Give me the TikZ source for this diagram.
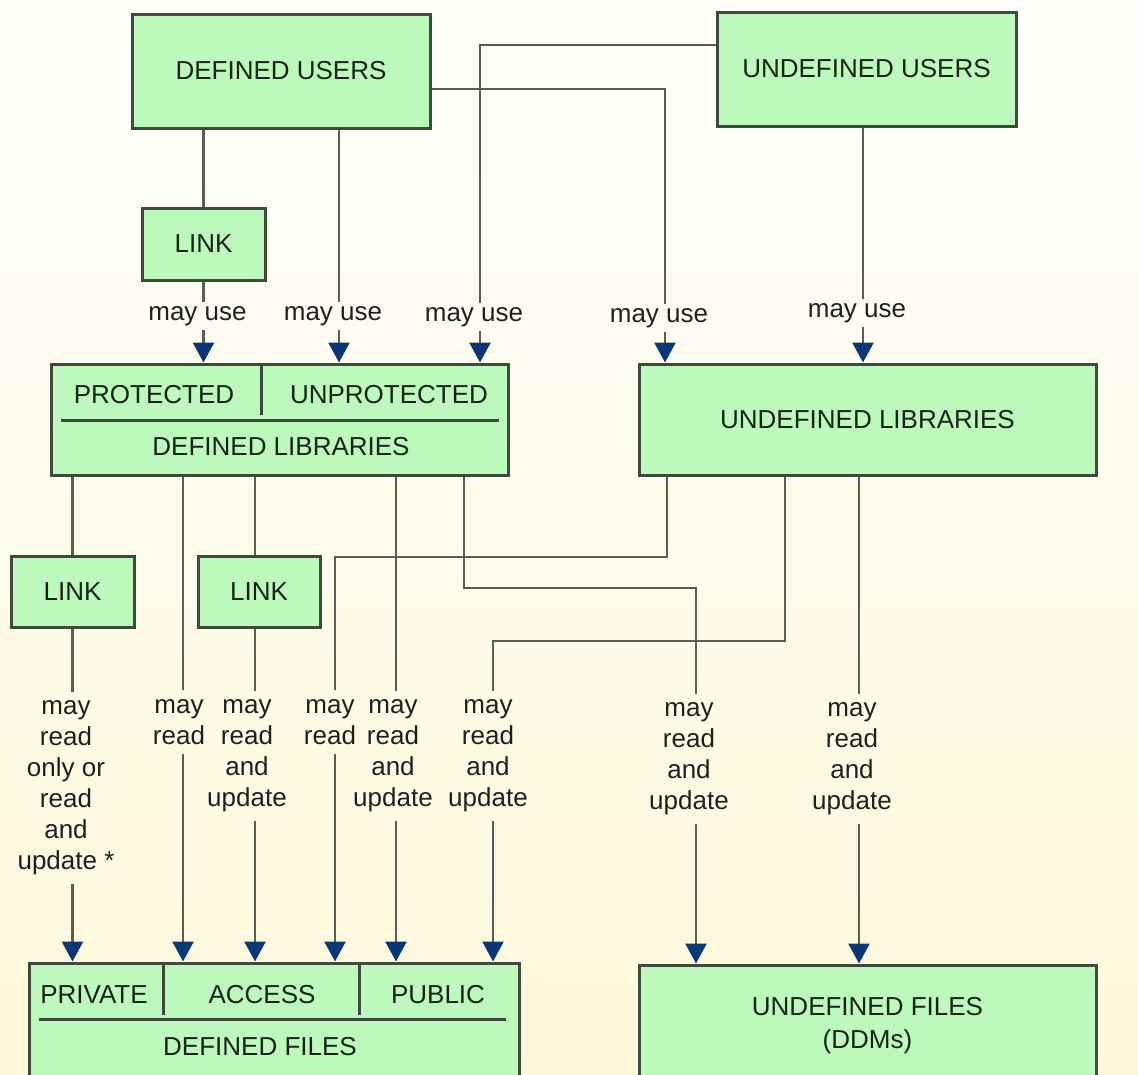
\documentclass[tikz,border=0pt]{standalone}
\usepackage{fontspec}
\setmainfont{Liberation Sans}
\usetikzlibrary{arrows.meta}
\definecolor{boxfill}{RGB}{189,249,189}
\definecolor{boxline}{RGB}{62,74,62}
\definecolor{conncol}{RGB}{92,92,86}
\definecolor{arrowcol}{RGB}{10,56,118}
\definecolor{txtcol}{RGB}{22,36,22}
\definecolor{lblcol}{RGB}{32,32,32}
\definecolor{bgtop}{RGB}{254,254,251}
\definecolor{bgbot}{RGB}{253,248,218}
\begin{document}
\begin{tikzpicture}[x=1pt,y=-1pt,
  box/.style={draw=boxline,fill=boxfill,line width=3pt,inner sep=0pt,text=txtcol,font=\fontsize{26}{33}\selectfont,align=center},
  boxtext/.style={inner sep=0pt,text=txtcol,font=\fontsize{26}{31}\selectfont},
  div/.style={draw=boxline,line width=3pt},
  conn/.style={draw=conncol,line width=2.6pt},
  arr/.style={conn,-{Triangle[width=21pt,length=20pt,color=arrowcol]}},
  uselbl/.style={inner sep=4pt,text=lblcol,font=\fontsize{26}{31}\selectfont},
  rdlbl/.style={inner sep=9pt,text=lblcol,font=\fontsize{26}{31}\selectfont,align=center}]
\useasboundingbox (0,0) rectangle (1138,1074);
\clip (0,0) rectangle (1138,1074);
\shade[top color=bgtop,bottom color=bgbot] (0,0) rectangle (1138,1074);

% boxes
\node[box,minimum width=298pt,minimum height=114pt] (du) at (281,71) {DEFINED USERS};
\node[box,minimum width=299pt,minimum height=114pt] (uu) at (866.5,69) {UNDEFINED USERS};
\node[box,minimum width=123pt,minimum height=72pt] (lk0) at (203.5,244) {LINK};
\node[box,minimum width=457pt,minimum height=111pt] (dl) at (279.5,419.5) {};
\node[box,minimum width=457pt,minimum height=111pt] (ul) at (867.5,419.5) {UNDEFINED LIBRARIES};
\node[box,minimum width=123pt,minimum height=71pt] (lk1) at (72.5,591.5) {LINK};
\node[box,minimum width=122pt,minimum height=71pt] (lk2) at (259,591.5) {LINK};
\node[box,minimum width=490pt,minimum height=127pt] (df) at (274,1026.5) {};
\node[box,minimum width=457pt,minimum height=122pt] (uf) at (867.5,1026) {UNDEFINED FILES\\(DDMs)};

% compound box contents
\draw[div] (261,364) -- (261,415);
\draw[div] (61,420) -- (499,420);
\node[boxtext] (prot) at (154,395) {PROTECTED};
\node[boxtext] (unprot) at (389,395) {UNPROTECTED};
\node[boxtext] (dltxt) at (281,447) {DEFINED LIBRARIES};
\draw[div] (163,963) -- (163,1015);
\draw[div] (359,963) -- (359,1015);
\draw[div] (39,1019) -- (506,1019);
\node[boxtext] (priv) at (94,995) {PRIVATE};
\node[boxtext] (acc) at (262,995) {ACCESS};
\node[boxtext] (pub) at (438,995) {PUBLIC};
\node[boxtext] (dftxt) at (260,1047) {DEFINED FILES};

% labels
\node[uselbl] (u1) at (197.5,316) {may use};
\node[uselbl] (u2) at (333,316) {may use};
\node[uselbl] (u3) at (474,317) {may use};
\node[uselbl] (u4) at (659,318) {may use};
\node[uselbl] (u5) at (857,313) {may use};
\node[rdlbl] (l1) at (66,788) {may\\read\\only or\\read\\and\\update *};
\node[rdlbl] (l2) at (179,722) {may\\read};
\node[rdlbl] (l3) at (247,756) {may\\read\\and\\update};
\node[rdlbl] (l4) at (330,722) {may\\read};
\node[rdlbl] (l5) at (393,756) {may\\read\\and\\update};
\node[rdlbl] (l6) at (488,756) {may\\read\\and\\update};
\node[rdlbl] (l7) at (689,759) {may\\read\\and\\update};
\node[rdlbl] (l8) at (852,759) {may\\read\\and\\update};

% columns
\coordinate (xa2) at (339,0);
\coordinate (xa3) at (480,0);
\coordinate (xa4) at (665,0);
\coordinate (xa5) at (863,0);
\coordinate (xb2) at (183,0);
\coordinate (xb3) at (255,0);
\coordinate (xb4) at (335,0);
\coordinate (xb5) at (396,0);
\coordinate (xb6) at (493,0);
\coordinate (xb7) at (696,0);
\coordinate (xb8) at (859,0);
\coordinate (xd7) at (464,0);
\coordinate (xu4) at (667,0);
\coordinate (xu6) at (785,0);

% upper connectors
\draw[conn] (du.south -| lk0.north) -- (lk0.north);
\draw[conn] (lk0.south) -- (lk0.south |- u1.north);
\draw[arr] (lk0.south |- u1.south) -- (dl.north -| lk0.south);
\draw[conn] (du.south -| xa2) -- (xa2 |- u2.north);
\draw[arr] (xa2 |- u2.south) -- (dl.north -| xa2);
\draw[conn] (uu.west |- 0,45) -| (xa3 |- u3.north);
\draw[arr] (xa3 |- u3.south) -- (dl.north -| xa3);
\draw[conn] (du.east |- 0,89) -| (xa4 |- u4.north);
\draw[arr] (xa4 |- u4.south) -- (ul.north -| xa4);
\draw[conn] (uu.south -| xa5) -- (xa5 |- u5.north);
\draw[arr] (xa5 |- u5.south) -- (ul.north -| xa5);

% lower connectors
\draw[conn] (dl.south -| lk1.north) -- (lk1.north);
\draw[conn] (lk1.south) -- (lk1.south |- l1.north);
\draw[arr] (lk1.south |- l1.south) -- (df.north -| lk1.south);
\draw[conn] (dl.south -| xb2) -- (xb2 |- l2.north);
\draw[arr] (xb2 |- l2.south) -- (df.north -| xb2);
\draw[conn] (dl.south -| xb3) -- (lk2.north -| xb3);
\draw[conn] (lk2.south -| xb3) -- (xb3 |- l3.north);
\draw[arr] (xb3 |- l3.south) -- (df.north -| xb3);
\draw[conn] (ul.south -| xu4) |- (xb4 |- 0,557) -- (xb4 |- l4.north);
\draw[arr] (xb4 |- l4.south) -- (df.north -| xb4);
\draw[conn] (dl.south -| xb5) -- (xb5 |- l5.north);
\draw[arr] (xb5 |- l5.south) -- (df.north -| xb5);
\draw[conn] (ul.south -| xu6) |- (xb6 |- 0,641) -- (xb6 |- l6.north);
\draw[arr] (xb6 |- l6.south) -- (df.north -| xb6);
\draw[conn] (dl.south -| xd7) |- (xb7 |- 0,588) -- (xb7 |- l7.north);
\draw[arr] (xb7 |- l7.south) -- (uf.north -| xb7);
\draw[conn] (ul.south -| xb8) -- (xb8 |- l8.north);
\draw[arr] (xb8 |- l8.south) -- (uf.north -| xb8);
\end{tikzpicture}
\end{document}
